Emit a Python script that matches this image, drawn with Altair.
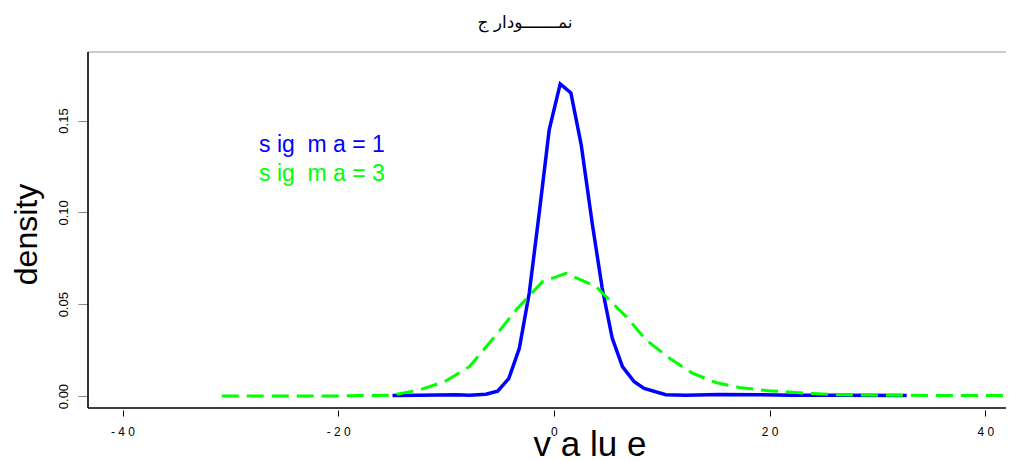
import altair as alt
import pandas as pd

# ---- data ----
blue_x = [-14.97, -12.5, -9.07, -7.84, -6.30, -5.22, -4.19, -3.21, -2.29, -1.36,
          -0.44, 0.58, 1.57, 2.53, 3.55, 4.47, 5.40, 6.35, 7.44, 8.36,
          10.37, 12.2, 15.3, 19.0, 22.1, 26.4, 32.7]
blue_y = [0.0003, 0.0004, 0.0007, 0.0005, 0.0010, 0.0027, 0.0095, 0.0260, 0.0561, 0.0999,
          0.1449, 0.1699, 0.1650, 0.1367, 0.0940, 0.0588, 0.0316, 0.0160, 0.0078, 0.0042,
          0.0007, 0.0004, 0.0009, 0.0007, 0.0004, 0.0004, 0.0003]

green_x = [-30.8, -25.0, -20.0, -15.0, -12.5, -10.16, -7.84, -5.6, -3.52, -1.06,
           1.11, 3.89, 5.12, 6.67, 8.52, 10.68, 12.83, 15.0, 17.16, 19.9,
           23.9, 26.4, 32.0, 37.0, 42.6]
green_y = [0.0, 0.0, 0.0001, 0.0005, 0.0033, 0.0078, 0.0160, 0.0316, 0.0468, 0.0623,
           0.0668, 0.0597, 0.0524, 0.0434, 0.0307, 0.0207, 0.0125, 0.0074, 0.0047, 0.0029,
           0.0014, 0.0007, 0.0004, 0.0003, 0.0003]

x_ticks = [-40, -20, 0, 20, 40]
x_tick_labels = ["- 4 0", "- 2 0", "0", "2 0", "4 0"]
y_ticks = [0.0, 0.05, 0.10, 0.15]
legend_labels = ["s ig\u00a0 m a = 1", "s ig\u00a0 m a = 3"]
series_colors = ["#0000ff", "#00ff00"]
title_text = "نمـــــــودار ج"
x_title = "v a lu e"
y_title = "density"

W, H = 918, 356

blue = pd.DataFrame({"value": blue_x, "density": blue_y})
green = pd.DataFrame({"value": green_x, "density": green_y})
one = pd.DataFrame({"k": [0]})

xscale = alt.Scale(domain=[-43.2, 41.91], nice=False, zero=False)
yscale = alt.Scale(domain=[-0.0065, 0.1873], nice=False, zero=False)

label_expr = ("[" + ",".join("'%s'" % l for l in x_tick_labels) + "][indexof(["
              + ",".join(str(v) for v in x_ticks) + "], datum.value)]")

xaxis = alt.Axis(values=x_ticks, labelExpr=label_expr, domain=False, grid=False,
                 offset=2, tickSize=6, tickColor="black", tickWidth=1,
                 labelFont="Liberation Sans", labelFontSize=12, labelColor="black",
                 labelPadding=10, labelFlush=False,
                 title=x_title, titleFont="Liberation Sans", titleFontSize=35,
                 titleFontWeight="normal", titleColor="black", titleAlign="left",
                 titleBaseline="alphabetic", titleX=445, titleY=45)

yaxis = alt.Axis(values=y_ticks, format=".2f", domain=False, grid=False,
                 tickSize=10, tickColor="#888888", tickWidth=1,
                 labelAngle=270, labelAlign="center", labelBaseline="bottom",
                 labelPadding=8, labelFont="Liberation Sans", labelFontSize=13,
                 labelColor="black", labelFlush=False,
                 title=y_title, titleFont="Liberation Sans", titleFontSize=32,
                 titleFontWeight="normal", titleColor="black", titleAngle=270,
                 titleAlign="center", titleBaseline="alphabetic",
                 titleX=-52, titleY=182)

blue_line = alt.Chart(blue).mark_line(color=series_colors[0], strokeWidth=3.5, clip=True).encode(
    x=alt.X("value:Q", scale=xscale, axis=xaxis),
    y=alt.Y("density:Q", scale=yscale, axis=yaxis),
)
green_line = alt.Chart(green).mark_line(color=series_colors[1], strokeWidth=3,
                                        strokeDash=[17, 8], clip=True).encode(
    x=alt.X("value:Q", scale=xscale, axis=xaxis),
    y=alt.Y("density:Q", scale=yscale, axis=yaxis),
)

frame_top = alt.Chart(one).mark_rule(color="#999999", strokeWidth=1).encode(
    x=alt.value(0), x2=alt.value(W), y=alt.value(0))
frame_left = alt.Chart(one).mark_rule(color="black", strokeWidth=1.6).encode(
    x=alt.value(0), y=alt.value(0), y2=alt.value(H))
frame_bottom = alt.Chart(one).mark_rule(color="black", strokeWidth=1.6).encode(
    x=alt.value(0), x2=alt.value(W), y=alt.value(H))

leg1 = alt.Chart(one).mark_text(text=legend_labels[0], color=series_colors[0],
                                font="Liberation Sans", fontSize=23, align="left",
                                baseline="alphabetic").encode(
    x=alt.value(171), y=alt.value(100))
leg2 = alt.Chart(one).mark_text(text=legend_labels[1], color=series_colors[1],
                                font="Liberation Sans", fontSize=23, align="left",
                                baseline="alphabetic").encode(
    x=alt.value(171), y=alt.value(129))

title_mark = alt.Chart(one).mark_text(text=title_text, color="black",
                                      font="DejaVu Sans", fontSize=17, align="center",
                                      baseline="alphabetic").encode(
    x=alt.value(437), y=alt.value(-24))

chart = alt.layer(
    frame_top, frame_left, frame_bottom, blue_line, green_line, leg1, leg2, title_mark
).properties(
    width=W, height=H,
    autosize=alt.AutoSizeParams(type="none"),
    padding={"left": 80, "top": 44, "right": 0, "bottom": 53},
    background="white",
).configure_view(stroke=None)

chart.save("out.html", embed_options={"renderer": "svg", "actions": False})
